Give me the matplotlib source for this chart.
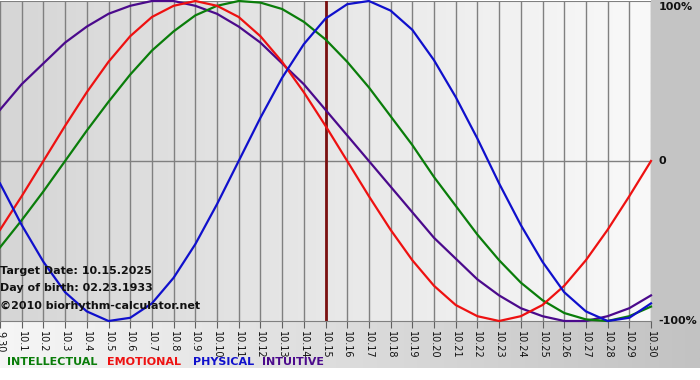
import numpy as np
import matplotlib.pyplot as plt

# Dates on the x axis (9.30 .. 10.30)
dates = ['9.30'] + ['10.%d' % i for i in range(1, 31)]

# Daily values (-1 .. 1)
physical = [-0.14, -0.40, -0.63, -0.82, -0.94, -1.00, -0.98, -0.89, -0.73, -0.52,
            -0.27, 0.00, 0.27, 0.52, 0.73, 0.89, 0.98, 1.00, 0.94, 0.82,
            0.63, 0.40, 0.14, -0.14, -0.40, -0.63, -0.82, -0.94, -1.00, -0.98, -0.89]
emotional = [-0.43, -0.22, 0.00, 0.22, 0.43, 0.62, 0.78, 0.90, 0.97, 1.00,
             0.97, 0.90, 0.78, 0.62, 0.43, 0.22, 0.00, -0.22, -0.43, -0.62,
             -0.78, -0.90, -0.97, -1.00, -0.97, -0.90, -0.78, -0.62, -0.43, -0.22, 0.00]
intellectual = [-0.54, -0.37, -0.19, 0.00, 0.19, 0.37, 0.54, 0.69, 0.81, 0.91,
                0.97, 1.00, 0.99, 0.95, 0.87, 0.76, 0.62, 0.46, 0.28, 0.10,
                -0.10, -0.28, -0.46, -0.62, -0.76, -0.87, -0.95, -0.99, -1.00, -0.97, -0.91]
intuitive = [0.32, 0.48, 0.61, 0.74, 0.84, 0.92, 0.97, 1.00, 1.00, 0.97,
             0.92, 0.84, 0.74, 0.61, 0.48, 0.32, 0.16, 0.00, -0.16, -0.32,
             -0.48, -0.61, -0.74, -0.84, -0.92, -0.97, -1.00, -1.00, -0.97, -0.92, -0.84]

target_idx = dates.index('10.15')
info = ['Target Date: 10.15.2025', 'Day of birth: 02.23.1933', '\u00a92010 biorhythm-calculator.net']

c_int = '#0a7d0a'
c_emo = '#ee1111'
c_phy = '#1010cc'
c_ittv = '#4b0a8c'

fig = plt.figure(figsize=(7, 3.8), dpi=100)
fig.patch.set_facecolor('white')

# background: bottom strip gradient + right grey margin
bg = fig.add_axes([0, 0, 1, 1])
bg.set_xlim(0, 700)
bg.set_ylim(380, 0)
bg.axis('off')
grad = np.linspace(0, 1, 256).reshape(1, -1)
bg.imshow(grad, cmap=plt.matplotlib.colors.LinearSegmentedColormap.from_list('b', ['#f6f6f6', '#c2c2c2']),
          extent=(0, 700, 368, 321), aspect='auto')
bg.add_patch(plt.Rectangle((651, 0), 49, 321, color='#c4c4c4', lw=0))

ax = fig.add_axes([0, 1 - 321 / 380, 651 / 700, 320 / 380])
x = np.arange(len(dates))
ax.set_xlim(0, len(dates) - 1)
ax.set_ylim(-1, 1)
ax.imshow(grad, cmap=plt.matplotlib.colors.LinearSegmentedColormap.from_list('p', ['#d6d6d6', '#f9f9f9']),
          extent=(0, len(dates) - 1, -1, 1), aspect='auto', zorder=0)

for xi in x:
    ax.axvline(xi, color='#808080', lw=1, zorder=1)
ax.axhline(0, color='#808080', lw=1, zorder=1)
ax.axhline(1, color='#808080', lw=1.5, zorder=1)
ax.axvline(target_idx, color='#7a1010', lw=2, zorder=2)

ax.plot(x, intuitive, color=c_ittv, lw=1.6, zorder=3, clip_on=False)
ax.plot(x, intellectual, color=c_int, lw=1.6, zorder=3, clip_on=False)
ax.plot(x, emotional, color=c_emo, lw=1.6, zorder=3, clip_on=False)
ax.plot(x, physical, color=c_phy, lw=1.6, zorder=3, clip_on=False)

for s in ax.spines.values():
    s.set_visible(False)
ax.spines['bottom'].set_visible(True)
ax.spines['bottom'].set_color('#808080')
ax.set_yticks([])
ax.set_xticks(x)
ax.set_xticklabels(dates, rotation=-90, fontsize=7, color='#111111')
ax.tick_params(axis='x', length=5, color='#606060', pad=2)

for i, t in enumerate(info):
    ax.text(3 / 651, (321 - [271, 288, 306][i]) / 160 - 1, t, fontsize=8, fontweight='bold',
            color='#111111', va='center', ha='left', zorder=4)

for val, lab in [(0.96, '100%'), (0, '0'), (-1, '-100%')]:
    ax.text(1.012, val, lab, transform=ax.get_yaxis_transform(), fontsize=8,
            fontweight='bold', color='#111111', va='center', ha='left', clip_on=False)

legend_items = [('INTELLECTUAL', c_int, 7), ('EMOTIONAL', c_emo, 107),
                ('PHYSICAL', c_phy, 193), ('INTUITIVE', c_ittv, 262)]
for lab, col, px in legend_items:
    fig.text(px / 700, 1 - 362 / 380, lab, color=col, fontsize=8, fontweight='bold',
             va='center', ha='left')

fig.savefig('out.png', dpi=100)
